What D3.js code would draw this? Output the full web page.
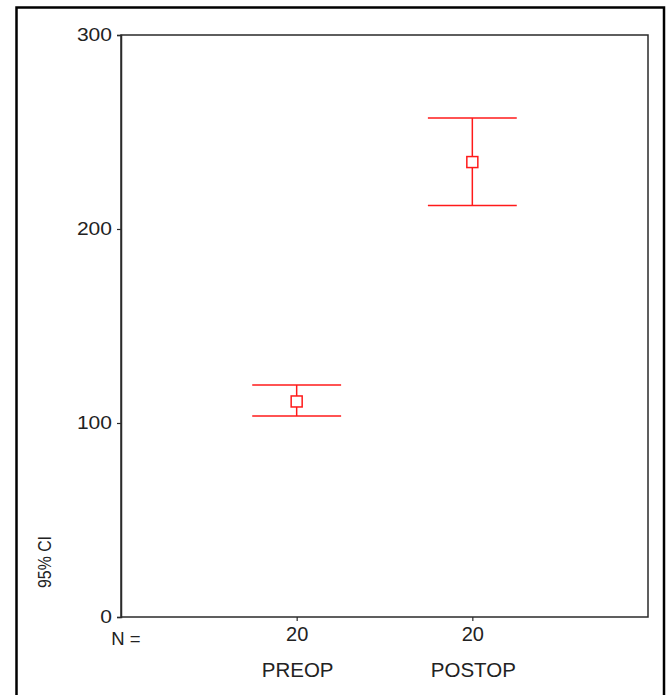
<!DOCTYPE html>
<html>
<head>
<meta charset="utf-8">
<script src="https://cdn.jsdelivr.net/npm/d3@7"></script>
<style>
  html, body { margin: 0; padding: 0; background: #fff; }
  svg { display: block; }
  text { font-family: "Liberation Sans", Arial, Helvetica, sans-serif; }
</style>
</head>
<body>
<svg id="chart" width="668" height="695"></svg>
<script>
// ---- data ----
const categories = ["PREOP", "POSTOP"];
const nValues = [20, 20];
const means = [111.1, 234.5];
const lower = [103.6, 212.1];
const upper = [119.6, 257.2];
const yTicks = [0, 100, 200, 300];
const yLabel = "95% CI";
const nLabel = "N =";

(function () {
const svg = d3.select("#chart");
const pLeft = 121, pRight = 648, pTop = 35, pBottom = 617;

// outer frame (bottom edge falls outside the picture)
svg.append("rect")
  .attr("x", 16.5).attr("y", 7.5)
  .attr("width", 647.5).attr("height", 720)
  .attr("fill", "none").attr("stroke", "#000").attr("stroke-width", 2.5);

const x = d3.scalePoint().domain(categories).range([pLeft, pRight]).padding(1);
const y = d3.scaleLinear().domain([0, 300]).range([pBottom, pTop]);

// plot frame
svg.append("rect")
  .attr("x", pLeft).attr("y", pTop)
  .attr("width", pRight - pLeft).attr("height", pBottom - pTop)
  .attr("fill", "none").attr("stroke", "#2a2a2a").attr("stroke-width", 1.5);

// y axis
const yAxis = svg.append("g")
  .attr("transform", `translate(${pLeft},0)`)
  .call(d3.axisLeft(y).tickValues(yTicks).tickSize(4).tickPadding(5).tickFormat(d3.format("d")));
yAxis.select(".domain").attr("stroke", "#2a2a2a").attr("stroke-width", 1.5);
yAxis.selectAll(".tick line").attr("stroke", "#2a2a2a").attr("stroke-width", 1.2);
yAxis.selectAll(".tick text")
  .attr("font-size", 18).attr("fill", "#222")
  .attr("font-family", "'Liberation Sans', Arial, sans-serif")
  .attr("textLength", d => String(d).length * 11.7)
  .attr("lengthAdjust", "spacingAndGlyphs");

// x axis: N counts as tick labels
const xAxis = svg.append("g")
  .attr("transform", `translate(0,${pBottom})`)
  .call(d3.axisBottom(x).tickSize(4).tickPadding(6).tickFormat((d, i) => nValues[i]));
xAxis.select(".domain").remove();
xAxis.selectAll(".tick line").attr("stroke", "#2a2a2a").attr("stroke-width", 1.2);
xAxis.selectAll(".tick text")
  .attr("font-size", 20).attr("fill", "#222")
  .attr("font-family", "'Liberation Sans', Arial, sans-serif");

// category names
svg.append("g").selectAll("text")
  .data(categories).join("text")
  .attr("x", d => x(d) + 1)
  .attr("y", 677)
  .attr("text-anchor", "middle")
  .attr("font-size", 20.5).attr("fill", "#222")
  .text(d => d);

// "N =" label
svg.append("text")
  .attr("x", 126).attr("y", 645)
  .attr("text-anchor", "middle")
  .attr("font-size", 18.5).attr("fill", "#222")
  .text(nLabel);

// y axis title
svg.append("text")
  .attr("transform", "translate(51,562) rotate(-90)")
  .attr("text-anchor", "middle")
  .attr("font-size", 18).attr("fill", "#222")
  .attr("textLength", 52).attr("lengthAdjust", "spacingAndGlyphs")
  .text(yLabel);

// error bars
const red = "#ff1a1a";
const capHalf = x.step() * 0.253;
const g = svg.append("g");
categories.forEach((c, i) => {
  const cx = x(c);
  g.append("line").attr("x1", cx).attr("x2", cx)
    .attr("y1", y(upper[i])).attr("y2", y(lower[i]))
    .attr("stroke", red).attr("stroke-width", 1.5);
  [upper[i], lower[i]].forEach(v => {
    g.append("line").attr("x1", cx - capHalf).attr("x2", cx + capHalf)
      .attr("y1", y(v)).attr("y2", y(v))
      .attr("stroke", red).attr("stroke-width", 1.5);
  });
  g.append("rect")
    .attr("x", cx - 5.5).attr("y", y(means[i]) - 5.5)
    .attr("width", 11).attr("height", 11)
    .attr("fill", "#fff").attr("stroke", red).attr("stroke-width", 1.5);
});
})();
</script>
</body>
</html>
